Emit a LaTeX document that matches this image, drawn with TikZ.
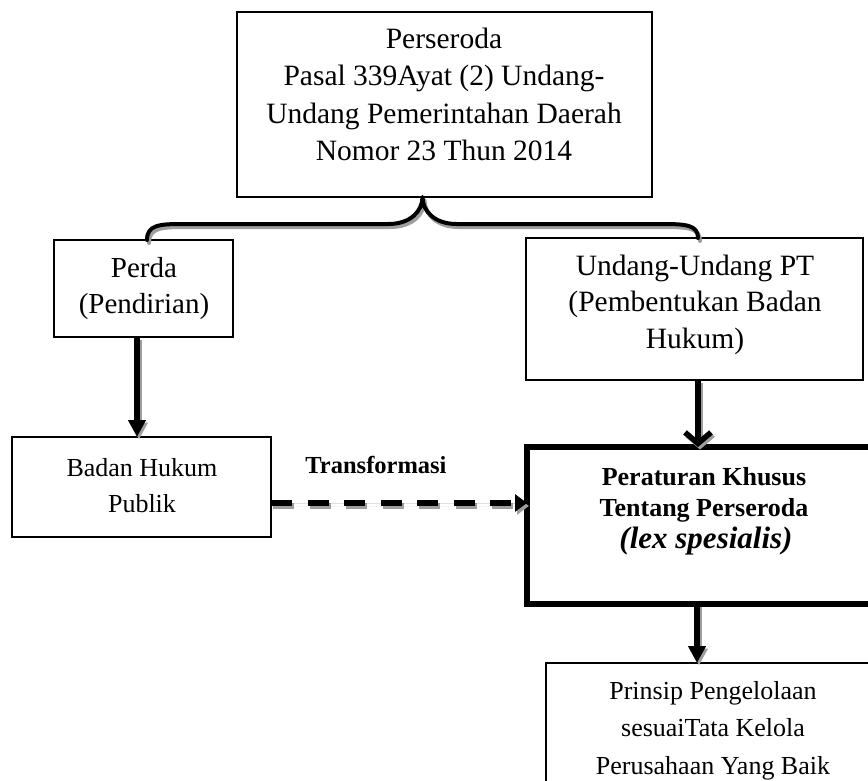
\documentclass[tikz,border=0pt]{standalone}
\usepackage{fontspec}
\setmainfont{Liberation Serif}
\usetikzlibrary{arrows.meta,calc}
\begin{document}
\begin{tikzpicture}[x=1pt,y=-1pt,
  frame/.style={draw=black, line width=1.8pt, outer sep=0pt, inner sep=0pt, anchor=north west},
  heavyframe/.style={frame, line width=6pt},
  txt/.style={inner sep=0pt, align=center, anchor=north},
  link/.style={draw=black, line width=5.5pt},
  shade/.style={draw=black!38, fill=black!38, transform canvas={xshift=2pt,yshift=-2.5pt}},
  solidhead/.style={-{Triangle[length=17pt,width=17pt]}},
  barbhead/.style={-{Straight Barb[length=11pt,width=26pt]}},
  dashlink/.style={line width=6pt, dash pattern=on 21pt off 15.5pt, -{Triangle[length=12pt,width=17pt]}},
  bracestroke/.style={line width=4pt, line join=round, line cap=round}
]
\useasboundingbox (0,0) rectangle (868,781);
\clip (0,0) rectangle (868,781);

% frames
\node[frame, minimum width=415pt, minimum height=185pt] (top) at (237,12) {};
\node[frame, minimum width=179pt, minimum height=97pt] (perda) at (54,240) {};
\node[frame, minimum width=337pt, minimum height=142pt] (uu) at (526,238) {};
\node[frame, minimum width=259pt, minimum height=100pt] (badan) at (12,437) {};
\node[heavyframe, minimum width=358pt, minimum height=157pt] (lex) at (527,447) {};
\node[frame, minimum width=334pt, minimum height=140pt] (prinsip) at (546,663) {};

% texts
\node[txt, font=\fontsize{29.5}{37.5}\selectfont] (topT) at (444,27.6)
  {Perseroda\\Pasal 339Ayat (2) Undang-\\Undang Pemerintahan Daerah\\Nomor 23 Thun 2014};
\node[txt, font=\fontsize{29}{36}\selectfont] (perdaT) at (144,256.8)
  {Perda\\(Pendirian)};
\node[txt, font=\fontsize{29.5}{36.5}\selectfont] (uuT) at (695,254.6)
  {Undang-Undang PT\\(Pembentukan Badan\\Hukum)};
\node[txt, font=\fontsize{26}{36}\selectfont] (badanT) at (142,457.8)
  {Badan Hukum\\Publik};
\node[inner sep=0pt, anchor=base, font=\bfseries\fontsize{24.5}{29}\selectfont] (transT) at (376,473)
  {Transformasi};
\node[txt, font=\bfseries\fontsize{26}{31}\selectfont] (lexT) at (704,467.6)
  {Peraturan Khusus\\Tentang Perseroda};
\node[inner sep=0pt, anchor=base, font=\bfseries\itshape\fontsize{31}{36}\selectfont] (lexI) at (706,548)
  {(lex spesialis)};
\node[txt, font=\fontsize{26}{37.5}\selectfont] (prinsipT) at (713,681)
  {Prinsip Pengelolaan\\sesuaiTata Kelola\\Perusahaan Yang Baik};

% brace joining the statute to its two branches
\coordinate (bl) at ([xshift=3.5pt]perda.north);
\coordinate (br) at ([xshift=3.5pt]uu.north);
\coordinate (bm) at ($(bl)!0.5!(br)$);
\coordinate (cusp) at (bm |- top.south);
\def\bracepath{(bl) .. controls ($(bl)+(0,-15)$) and ($(bl)+(12,-16)$) .. ($(bl)+(36,-16)$)
  -- ($(cusp)+(-34,27)$) .. controls ($(cusp)+(-12,27)$) and ($(cusp)+(0,14)$) .. (cusp)
  .. controls ($(cusp)+(0,14)$) and ($(cusp)+(12,27)$) .. ($(cusp)+(34,27)$)
  -- ($(br)+(-36,-14)$) .. controls ($(br)+(-12,-14)$) and ($(br)+(0,-13)$) .. (br)}
\draw[bracestroke, draw=black!38, transform canvas={xshift=2pt,yshift=-3pt}] \bracepath;
\draw[bracestroke, draw=black] \bracepath;

% arrows
\coordinate (a1) at ([xshift=-6.5pt]perda.south);
\coordinate (a2) at (a1 |- badan.north);
\draw[link, shade, solidhead] (a1) -- (a2);
\draw[link, solidhead] (a1) -- (a2);

\coordinate (b1) at ([xshift=3.5pt]uu.south);
\coordinate (b2) at (b1 |- lex.north);
\draw[link, shade, fill=none, barbhead] (b1) -- (b2);
\draw[link, barbhead] (b1) -- (b2);

\coordinate (c1) at ([xshift=-9pt]lex.south);
\coordinate (c2) at (c1 |- prinsip.north);
\draw[link, shade, solidhead] (c1) -- (c2);
\draw[link, solidhead] (c1) -- (c2);

\coordinate (d1) at ([yshift=-16pt]badan.east);
\coordinate (d2) at (d1 -| lex.west);
\draw[dashlink, draw=black!38, fill=black!38, transform canvas={xshift=2pt,yshift=-3pt}] (d1) -- (d2);
\draw[dashlink, draw=black, fill=black] (d1) -- (d2);
\end{tikzpicture}
\end{document}
